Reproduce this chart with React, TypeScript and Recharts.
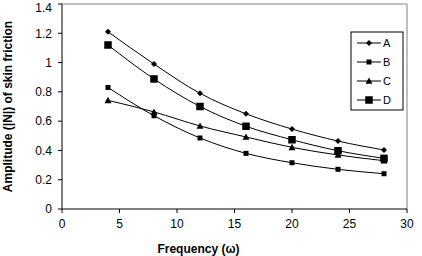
import React from 'react';
import { LineChart, Line, XAxis, YAxis, ReferenceLine, Label } from 'recharts';

const frequencies = [4, 8, 12, 16, 20, 24, 28];
const seriesA = [1.21, 0.99, 0.79, 0.65, 0.546, 0.464, 0.403];
const seriesB = [0.83, 0.637, 0.485, 0.38, 0.316, 0.271, 0.241];
const seriesC = [0.742, 0.663, 0.567, 0.492, 0.421, 0.369, 0.33];
const seriesD = [1.12, 0.888, 0.7, 0.565, 0.473, 0.398, 0.346];
const xTicks = [0, 5, 10, 15, 20, 25, 30];
const yTicks = [0, 0.2, 0.4, 0.6, 0.8, 1, 1.2, 1.4];
const seriesNames = ['A', 'B', 'C', 'D'];
const markerKinds = ['diamond', 'smallSquare', 'triangle', 'bigSquare'];

const data = frequencies.map((f, i) => ({
  f,
  A: seriesA[i],
  B: seriesB[i],
  C: seriesC[i],
  D: seriesD[i],
}));

const FONT = '"Liberation Sans", Arial, sans-serif';

function Marker({ kind, cx, cy }: { kind: string; cx: number; cy: number }) {
  if (kind === 'diamond') {
    const r = 3;
    return <polygon points={`${cx},${cy - r} ${cx + r},${cy} ${cx},${cy + r} ${cx - r},${cy}`} fill="#000" />;
  }
  if (kind === 'smallSquare') {
    const s = 5;
    return <rect x={cx - s / 2} y={cy - s / 2} width={s} height={s} fill="#000" />;
  }
  if (kind === 'triangle') {
    const r = 3.5;
    return <polygon points={`${cx},${cy - r} ${cx + r},${cy + r * 0.8} ${cx - r},${cy + r * 0.8}`} fill="#000" />;
  }
  const s = 7.5;
  return <rect x={cx - s / 2} y={cy - s / 2} width={s} height={s} fill="#000" />;
}

const makeDot = (kind: string) => (props: any) => {
  const { cx, cy, index } = props;
  if (cx == null || cy == null) return <g key={`d-${kind}-${index}`} />;
  return (
    <g key={`d-${kind}-${index}`}>
      <Marker kind={kind} cx={cx} cy={cy} />
    </g>
  );
};

function LegendBox() {
  return (
    <svg
      width={54}
      height={80}
      style={{ position: 'absolute', left: 350, top: 31 }}
    >
      <rect x={1} y={1} width={52} height={78} fill="#fff" stroke="#000" strokeWidth={1} />
      {seriesNames.map((name, i) => {
        const y = 12 + i * 19;
        return (
          <g key={name}>
            <line x1={7} x2={31} y1={y} y2={y} stroke="#000" strokeWidth={1} />
            <Marker kind={markerKinds[i]} cx={19} cy={y} />
            <text x={33} y={y + 4} fontSize={11} fontFamily={FONT} fill="#000">
              {name}
            </text>
          </g>
        );
      })}
    </svg>
  );
}

function YLabel(props: any) {
  const vb = props.viewBox || {};
  const x = (vb.x ?? 0) + 8;
  const y = (vb.y ?? 0) + (vb.height ?? 0) / 2;
  return (
    <text
      x={x}
      y={y}
      transform={`rotate(-90, ${x}, ${y})`}
      textAnchor="middle"
      dominantBaseline="central"
      fontSize={12}
      fontWeight="bold"
      fontFamily={FONT}
      fill="#000"
    >
      Amplitude (|N|) of skin friction
    </text>
  );
}

export default function App() {
  return (
    <div style={{ position: 'absolute', left: 0, top: 0, width: 422, height: 256, background: '#fff' }}>
      <LineChart width={422} height={256} data={data} margin={{ top: 4, right: 15, bottom: 0, left: 0 }}>
        <XAxis
          dataKey="f"
          type="number"
          domain={[0, 30]}
          ticks={xTicks}
          height={47}
          tickSize={4}
          tickMargin={6}
          axisLine={{ stroke: '#000' }}
          tickLine={{ stroke: '#000' }}
          tick={{ fontSize: 12, fontFamily: FONT, fill: '#000' }}
        >
          <Label
            value="Frequency (ω)"
            position="insideBottom"
            offset={3}
            dx={-36}
            style={{ fontSize: 12, fontWeight: 'bold', fontFamily: FONT, fill: '#000' }}
          />
        </XAxis>
        <YAxis
          type="number"
          domain={[0, 1.4]}
          ticks={yTicks}
          width={62}
          tickSize={4}
          tickMargin={6}
          axisLine={{ stroke: '#000' }}
          tickLine={{ stroke: '#000' }}
          tick={{ fontSize: 12, fontFamily: FONT, fill: '#000' }}
        >
          <Label content={<YLabel />} />
        </YAxis>
        <ReferenceLine y={1.4} stroke="#808080" strokeWidth={1} />
        <ReferenceLine x={30} stroke="#808080" strokeWidth={1} />
        {seriesNames.map((name, i) => (
          <Line
            key={name}
            dataKey={name}
            type="monotone"
            stroke="#000"
            strokeWidth={1}
            dot={makeDot(markerKinds[i])}
            activeDot={false}
            isAnimationActive={false}
          />
        ))}
      </LineChart>
      <LegendBox />
    </div>
  );
}
